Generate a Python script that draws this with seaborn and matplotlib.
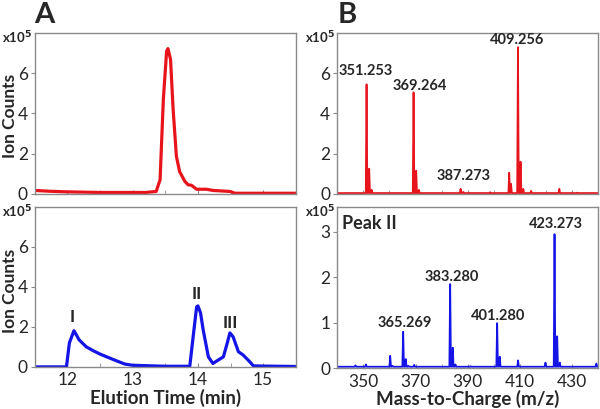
import numpy as np
import pandas as pd
import matplotlib
matplotlib.use("Agg")
import matplotlib.pyplot as plt
import seaborn as sns

# Chromatogram, top (red) - elution time (min) vs ion counts (x1e5)
time_top = [11.5, 11.73, 12.0, 12.5, 13.2, 13.36, 13.42, 13.47, 13.52, 13.54, 13.58,
            13.62, 13.67, 13.72, 13.8, 13.85, 13.9, 13.98, 14.13, 14.23, 14.49, 14.57, 15.5]
counts_top = [0.17, 0.13, 0.10, 0.07, 0.07, 0.12, 0.7, 4.7, 7.1, 7.23, 6.7,
              4.2, 1.87, 1.1, 0.62, 0.45, 0.43, 0.23, 0.23, 0.17, 0.12, 0.03, 0.03]

# Chromatogram, bottom (blue)
time_bot = [11.5, 11.985, 12.03, 12.10, 12.18, 12.29, 12.4, 12.5, 12.7, 12.88, 13.0, 13.5,
            13.875, 13.93, 13.98, 14.0, 14.04, 14.08, 14.16, 14.23, 14.31, 14.39, 14.45,
            14.49, 14.54, 14.62, 14.69, 14.77, 14.85, 15.0, 15.5]
counts_bot = [0.0, 0.0, 1.2, 1.81, 1.35, 1.0, 0.8, 0.64, 0.37, 0.14, 0.08, 0.03,
              0.03, 1.6, 3.0, 3.05, 2.7, 1.86, 0.5, 0.17, 0.34, 0.5, 1.2,
              1.7, 1.5, 0.76, 0.6, 0.34, 0.05, 0.04, 0.02]

# Mass spectrum, top (red): m/z and peak heights (x1e5)
mz_top = [351.25, 352.25, 353.2, 369.26, 370.27, 371.3, 387.27, 388.3, 398.6,
          405.9, 406.6, 409.26, 410.26, 411.3, 414.3, 425.1, 432.0]
int_top = [5.45, 1.25, 0.2, 5.05, 1.15, 0.2, 0.25, 0.1, 0.08,
           1.05, 0.5, 7.3, 1.6, 0.25, 0.15, 0.25, 0.06]

# Mass spectrum, bottom (blue) - Peak II
mz_bot = [347.0, 351.0, 360.3, 361.2, 365.27, 366.27, 367.3, 369.5, 383.28, 384.28,
          385.3, 391.0, 401.28, 402.28, 409.3, 413.0, 419.8, 423.27, 424.28, 425.3, 439.3]
int_bot = [0.06, 0.08, 0.27, 0.05, 0.80, 0.2, 0.05, 0.07, 1.85, 0.45,
           0.08, 0.04, 0.99, 0.25, 0.17, 0.03, 0.12, 2.95, 0.7, 0.12, 0.1]

labels_top_ms = ["351.253", "369.264", "387.273", "409.256"]
labels_bot_ms = ["365.269", "383.280", "401.280", "423.273"]
peak_names = ["I", "II", "III"]

RED = "#e8141c"
BLUE = "#1414e6"
SPINE = "#8a8a8a"


def spectrum_frame(mz, inten, base, half=0.3):
    xs, ys = [340.0], [base]
    for m, h in sorted(zip(mz, inten)):
        xs += [m - half, m, m + half]
        ys += [base, h, base]
    xs.append(440.0)
    ys.append(base)
    return pd.DataFrame({"mz": xs, "counts": ys})


sns.set_style("ticks")
plt.rcParams["font.family"] = ["Lato", "DejaVu Sans"]

fig = plt.figure(figsize=(6, 4.09), dpi=100)
axA1 = fig.add_axes([0.058, 0.526, 0.435, 0.393])
axA2 = fig.add_axes([0.058, 0.103, 0.435, 0.391])
axB1 = fig.add_axes([0.562, 0.526, 0.435, 0.393])
axB2 = fig.add_axes([0.562, 0.100, 0.435, 0.394])

sns.lineplot(x=time_top, y=counts_top, ax=axA1, color=RED, lw=2.3)
sns.lineplot(x=time_bot, y=counts_bot, ax=axA2, color=BLUE, lw=2.3)
dfB1 = spectrum_frame(mz_top, int_top, 0.04)
dfB2 = spectrum_frame(mz_bot, int_bot, 0.03)
sns.lineplot(data=dfB1, x="mz", y="counts", ax=axB1, color=RED, lw=1.3,
             sort=False, estimator=None)
sns.lineplot(data=dfB2, x="mz", y="counts", ax=axB2, color=BLUE, lw=1.3,
             sort=False, estimator=None)

for ax in (axA1, axA2):
    ax.set_xlim(11.5, 15.5)
    ax.set_ylim(0, 8)
    ax.set_xticks([12, 13, 14, 15])
    ax.set_xticks(np.arange(11.5, 15.6, 0.5), minor=True)
    ax.set_yticks([0, 2, 4, 6])
for ax in (axB1, axB2):
    ax.set_xlim(340, 440)
    ax.set_xticks([350, 370, 390, 410, 430])
    ax.set_xticks(np.arange(340, 441, 10), minor=True)
axB1.set_ylim(0, 8)
axB1.set_yticks([0, 2, 4, 6])
axB2.set_ylim(0, 3.55)
axB2.set_yticks([0, 1, 2, 3])

for ax in (axA1, axA2, axB1, axB2):
    for s in ax.spines.values():
        s.set_color(SPINE)
        s.set_linewidth(1.0)
    ax.tick_params(axis="x", which="both", direction="in", length=3, color=SPINE,
                   labelsize=12.5, pad=4)
    ax.tick_params(axis="y", which="major", direction="out", length=3, color=SPINE,
                   labelsize=12.5, pad=2)
    ax.set_xlabel("")
    ax.set_ylabel("")
    ax.text(-0.125, 0.97, r"x10$^{\mathbf{5}}$", transform=ax.transAxes, fontsize=9.5,
            fontweight="bold", ha="left", va="center")
for ax in (axA1, axB1):
    ax.tick_params(axis="x", labelbottom=False)

fig.text(0.016, 1 - 116 / 409, "Ion Counts", rotation=90, fontsize=12.5,
         fontweight="bold", ha="center", va="center")
fig.text(0.016, 1 - 291 / 409, "Ion Counts", rotation=90, fontsize=12.5,
         fontweight="bold", ha="center", va="center")
axA2.set_xlabel("Elution Time (min)", fontsize=13.5, fontweight="bold", labelpad=0)
axB2.set_xlabel("Mass-to-Charge (m/z)", fontsize=13.5, fontweight="bold", labelpad=0)

# peak annotations
for lab, x, y in zip(peak_names, [12.07, 13.98, 14.49], [2.5, 3.65, 2.2]):
    axA2.text(x, y, lab, ha="center", va="center", fontsize=12.5, fontweight="bold")
for lab, x, y in zip(labels_top_ms, [351.0, 371.8, 388.3, 409.0], [6.1, 5.35, 0.9, 7.65]):
    axB1.text(x, y, lab, ha="center", va="center", fontsize=10.5, fontweight="bold")
for lab, x, y in zip(labels_bot_ms, [365.7, 384.0, 401.7, 424.0], [1.0, 2.0, 1.15, 3.18]):
    axB2.text(x, y, lab, ha="center", va="center", fontsize=10.5, fontweight="bold")
axB2.text(0.02, 0.9, "Peak II", transform=axB2.transAxes, ha="left", va="center",
          fontsize=13, fontweight="bold")

fig.text(0.073, 0.963, "A", fontsize=21, fontweight="bold", ha="center", va="center")
fig.text(0.578, 0.963, "B", fontsize=21, fontweight="bold", ha="center", va="center")

fig.savefig("out.png", dpi=100)
